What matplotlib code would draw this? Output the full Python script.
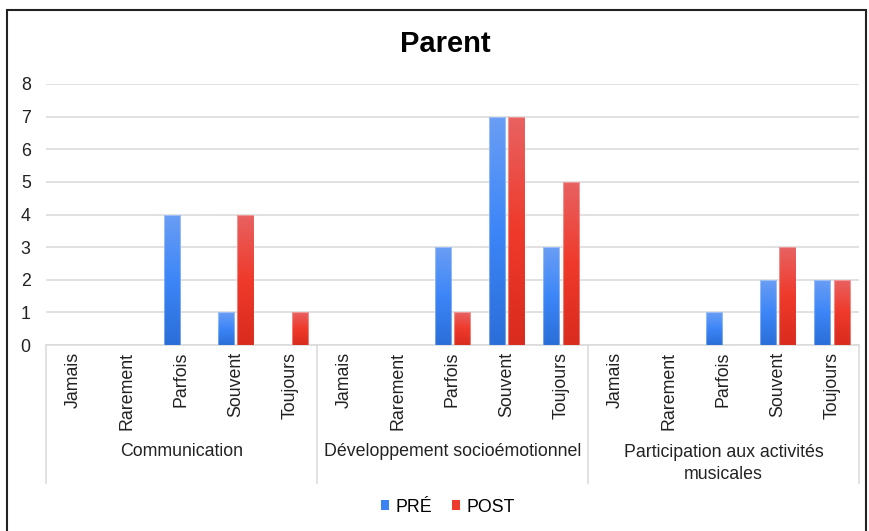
import matplotlib
matplotlib.use("Agg")
import matplotlib.pyplot as plt
import matplotlib.transforms as mtransforms
from matplotlib.patches import Rectangle
from matplotlib.colors import LinearSegmentedColormap
import numpy as np

plt.rcParams['font.family'] = ['Liberation Sans', 'DejaVu Sans']

groups = ["Communication", "Développement socioémotionnel", "Participation aux activités\nmusicales"]
levels = ["Jamais", "Rarement", "Parfois", "Souvent", "Toujours"]
pre = [0, 0, 4, 1, 0,   0, 0, 3, 7, 3,   0, 0, 1, 2, 2]
post = [0, 0, 0, 4, 1,  0, 0, 1, 7, 5,   0, 0, 0, 3, 2]
series = ["PRÉ", "POST"]
colors = ["#3b82f4", "#ec3b2d"]
grad_pre = ["#6a9ef4", "#3d86f8", "#2a6ed8"]
grad_post = ["#e86262", "#ef3a2b", "#d92b1e"]

W, H = 870, 531
fig = plt.figure(figsize=(W / 100, H / 100), dpi=100)
ax = fig.add_axes([46 / W, 1 - 345 / H, (859 - 46) / W, (345 - 84) / H])

n = len(groups) * len(levels)
x = np.arange(n)
bw = 0.30
off = 0.18
b1 = ax.bar(x - off, pre, bw, color=colors[0], label=series[0], zorder=3)
b2 = ax.bar(x + off, post, bw, color=colors[1], label=series[1], zorder=3)

# vertical gradient fill, clipped to each bar
grad = np.linspace(0, 1, 256).reshape(-1, 1)
for bars, stops in ((b1, grad_pre), (b2, grad_post)):
    cmap = LinearSegmentedColormap.from_list("g", stops)
    for p in bars:
        h = p.get_height()
        if h <= 0:
            continue
        x0 = p.get_x()
        im = ax.imshow(grad, cmap=cmap, aspect="auto", origin="upper",
                       extent=(x0, x0 + p.get_width(), 0, h), zorder=3.5)
        im.set_clip_path(p)
        ax.add_patch(Rectangle((x0, 0), p.get_width(), h, fill=False,
                               edgecolor=(1, 1, 1, 0.35), linewidth=0.8, zorder=4))

ax.set_xlim(-0.5, n - 0.5)
ax.set_ylim(0, 8)
ax.set_yticks(range(0, 9))
ax.yaxis.grid(True, color="#dcdcdc", linewidth=1.2, zorder=0)
ax.set_axisbelow(True)
for s in ax.spines.values():
    s.set_visible(False)
ax.tick_params(axis="y", length=0, pad=11, labelsize=12.8, labelcolor="#222222")
ax.tick_params(axis="x", length=0, pad=5, labelsize=12.8, labelcolor="#222222")
ax.set_xticks(x)
ax.set_xticklabels(levels * len(groups), rotation=90, va="top", ha="center")

trans = mtransforms.blended_transform_factory(ax.transData, ax.transAxes)
sep_bottom = -(483 - 345) / (345 - 84)
for g in range(len(groups) + 1):
    xs = g * len(levels) - 0.5
    ax.plot([xs, xs], [0, sep_bottom], transform=trans, color="#dcdcdc",
            linewidth=1.2, clip_on=False)
ax.plot([-0.5, n - 0.5], [0, 0], transform=trans, color="#dcdcdc", linewidth=1.2,
        clip_on=False)
for g, name in enumerate(groups):
    cx = g * len(levels) + (len(levels) - 1) / 2
    yy = -(452 - 345) / (345 - 84)
    if "\n" in name:
        ax.text(cx, yy + 0.03, name, transform=trans, ha="center", va="top",
                fontsize=12.8, color="#222222", linespacing=1.4)
    else:
        ax.text(cx, yy, name, transform=trans, ha="center", va="center",
                fontsize=12.8, color="#222222")

fig.text(445 / W, 1 - 44 / H, "Parent", ha="center", va="center",
         fontsize=21, fontweight="bold", color="black")

leg = fig.legend(loc="center", bbox_to_anchor=(448 / W, 1 - 507 / H), ncol=2,
                 frameon=False, fontsize=12.8, handlelength=0.45, handleheight=0.45,
                 handletextpad=0.35, columnspacing=1.1)

# outer frame of the chart
fig.add_artist(Rectangle((7 / W, -0.05), (866 - 7) / W, 1.05 - 10 / H,
                         transform=fig.transFigure, fill=False,
                         edgecolor="#222222", linewidth=1.5))

fig.savefig("out.png", dpi=100)
